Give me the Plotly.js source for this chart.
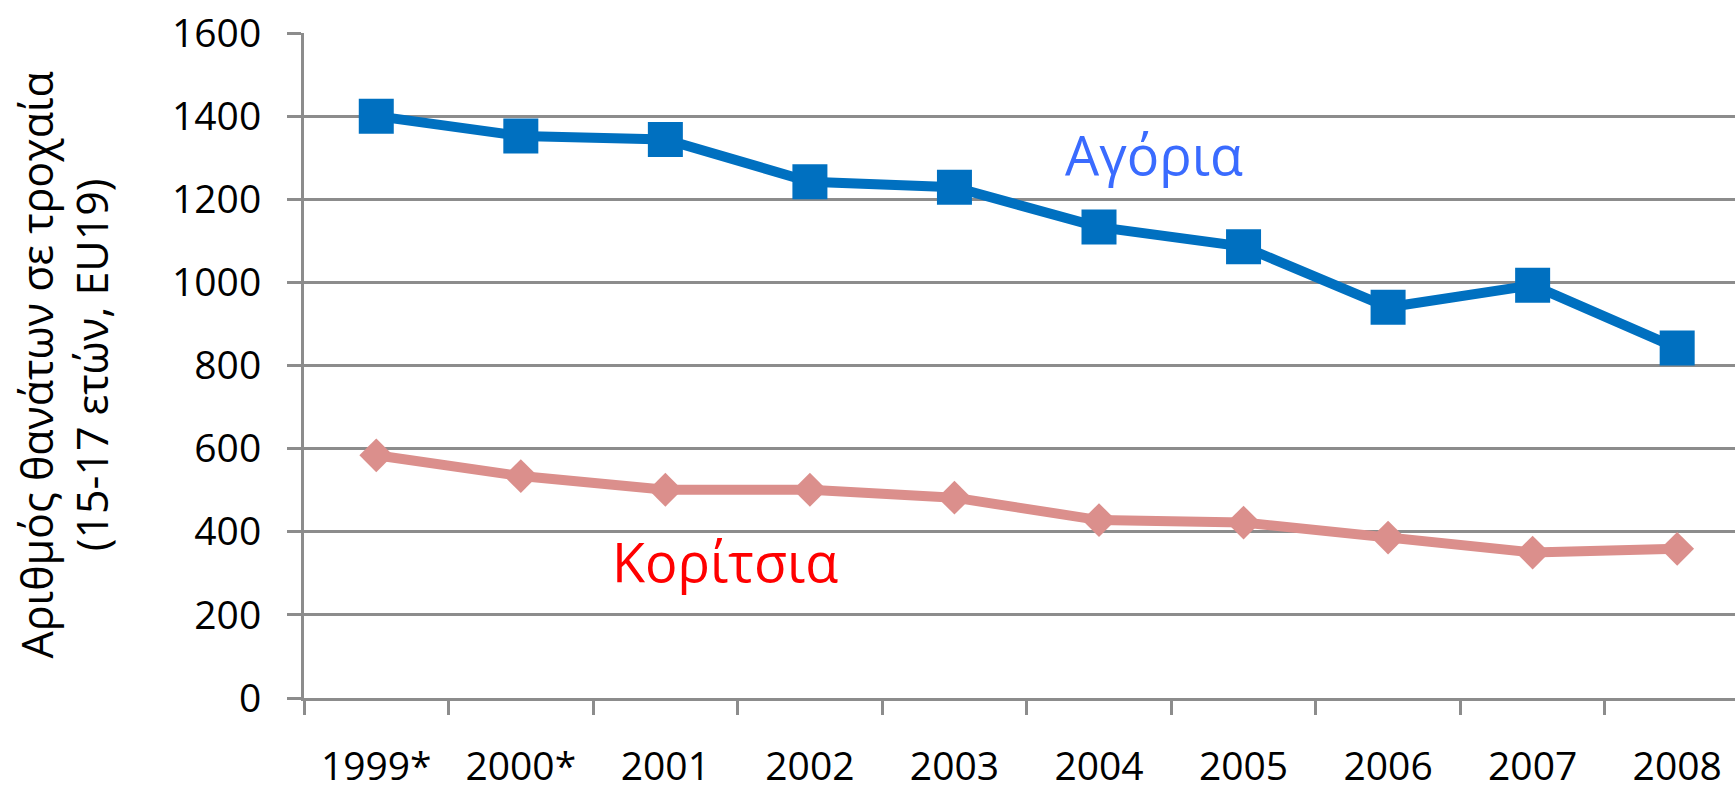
<!DOCTYPE html>
<html>
<head>
<meta charset="utf-8">
<script src="https://cdn.plot.ly/plotly-3.0.1.min.js"></script>
<style>
html,body{margin:0;padding:0;overflow:hidden;background:#fff;}
#chart{width:1735px;height:790px;}
</style>
</head>
<body>
<div id="chart"></div>
<script>
const years = ["1999*", "2000*", "2001", "2002", "2003", "2004", "2005", "2006", "2007", "2008"];
const boys = [1400, 1352, 1344, 1242, 1229, 1133, 1086, 940, 993, 842];
const girls = [584, 534, 501, 501, 482, 428, 422, 386, 350, 359];
const boysLabel = "Αγόρια";
const girlsLabel = "Κορίτσια";
const yTitle = "Αριθμός θανάτων σε τροχαία<br>(15-17 ετών, EU19)";

const FONT = "Open Sans, Noto Sans, DejaVu Sans, sans-serif";
const GRID = "#8c8c8c";

const traces = [
  {
    x: years, y: girls, type: "scatter", mode: "lines+markers", name: girlsLabel,
    line: {color: "#DB8F8C", width: 10},
    marker: {symbol: "diamond", size: 26, color: "#DB8F8C"},
    cliponaxis: false
  },
  {
    x: years, y: boys, type: "scatter", mode: "lines+markers", name: boysLabel,
    line: {color: "#0070C0", width: 10},
    marker: {symbol: "square", size: 35, color: "#0070C0"},
    cliponaxis: false
  }
];

const layout = {
  width: 1735, height: 790,
  margin: {l: 304, r: 0, t: 33, b: 92},
  paper_bgcolor: "#fff", plot_bgcolor: "#fff",
  showlegend: false,
  font: {family: FONT, color: "#000"},
  xaxis: {
    type: "category",
    range: [-0.5, 9.4],
    showgrid: false,
    showline: true, linecolor: GRID, linewidth: 3,
    ticks: "outside", ticklen: 14, tickwidth: 3, tickcolor: GRID,
    tickson: "boundaries",
    tickfont: {size: 39, family: FONT, color: "#000"},
    ticklabelstandoff: 32,
    zeroline: false, fixedrange: true
  },
  yaxis: {
    range: [0, 1600],
    dtick: 200, tick0: 0,
    showgrid: true, gridcolor: GRID, gridwidth: 3,
    showline: true, linecolor: GRID, linewidth: 3,
    ticks: "outside", ticklen: 14, tickwidth: 3, tickcolor: GRID,
    tickfont: {size: 39, family: FONT, color: "#000"},
    ticklabelstandoff: 18,
    zeroline: false, fixedrange: true
  },
  annotations: [
    {
      xref: "paper", yref: "paper",
      x: (64 - 304) / 1431, y: 0.5,
      xanchor: "center", yanchor: "middle",
      text: yTitle, textangle: -90, showarrow: false,
      font: {size: 43, family: FONT, color: "#000"}
    },
    {
      xref: "x", yref: "y", x: 5.38, y: 1308,
      xanchor: "center", yanchor: "middle",
      text: boysLabel, showarrow: false,
      font: {size: 54, family: FONT, color: "#3A6BFF"}
    },
    {
      xref: "x", yref: "y", x: 2.41, y: 330,
      xanchor: "center", yanchor: "middle",
      text: girlsLabel, showarrow: false,
      font: {size: 54, family: FONT, color: "#FF0000"}
    }
  ]
};

Plotly.newPlot("chart", traces, layout, {displayModeBar: false, staticPlot: true});
</script>
</body>
</html>
